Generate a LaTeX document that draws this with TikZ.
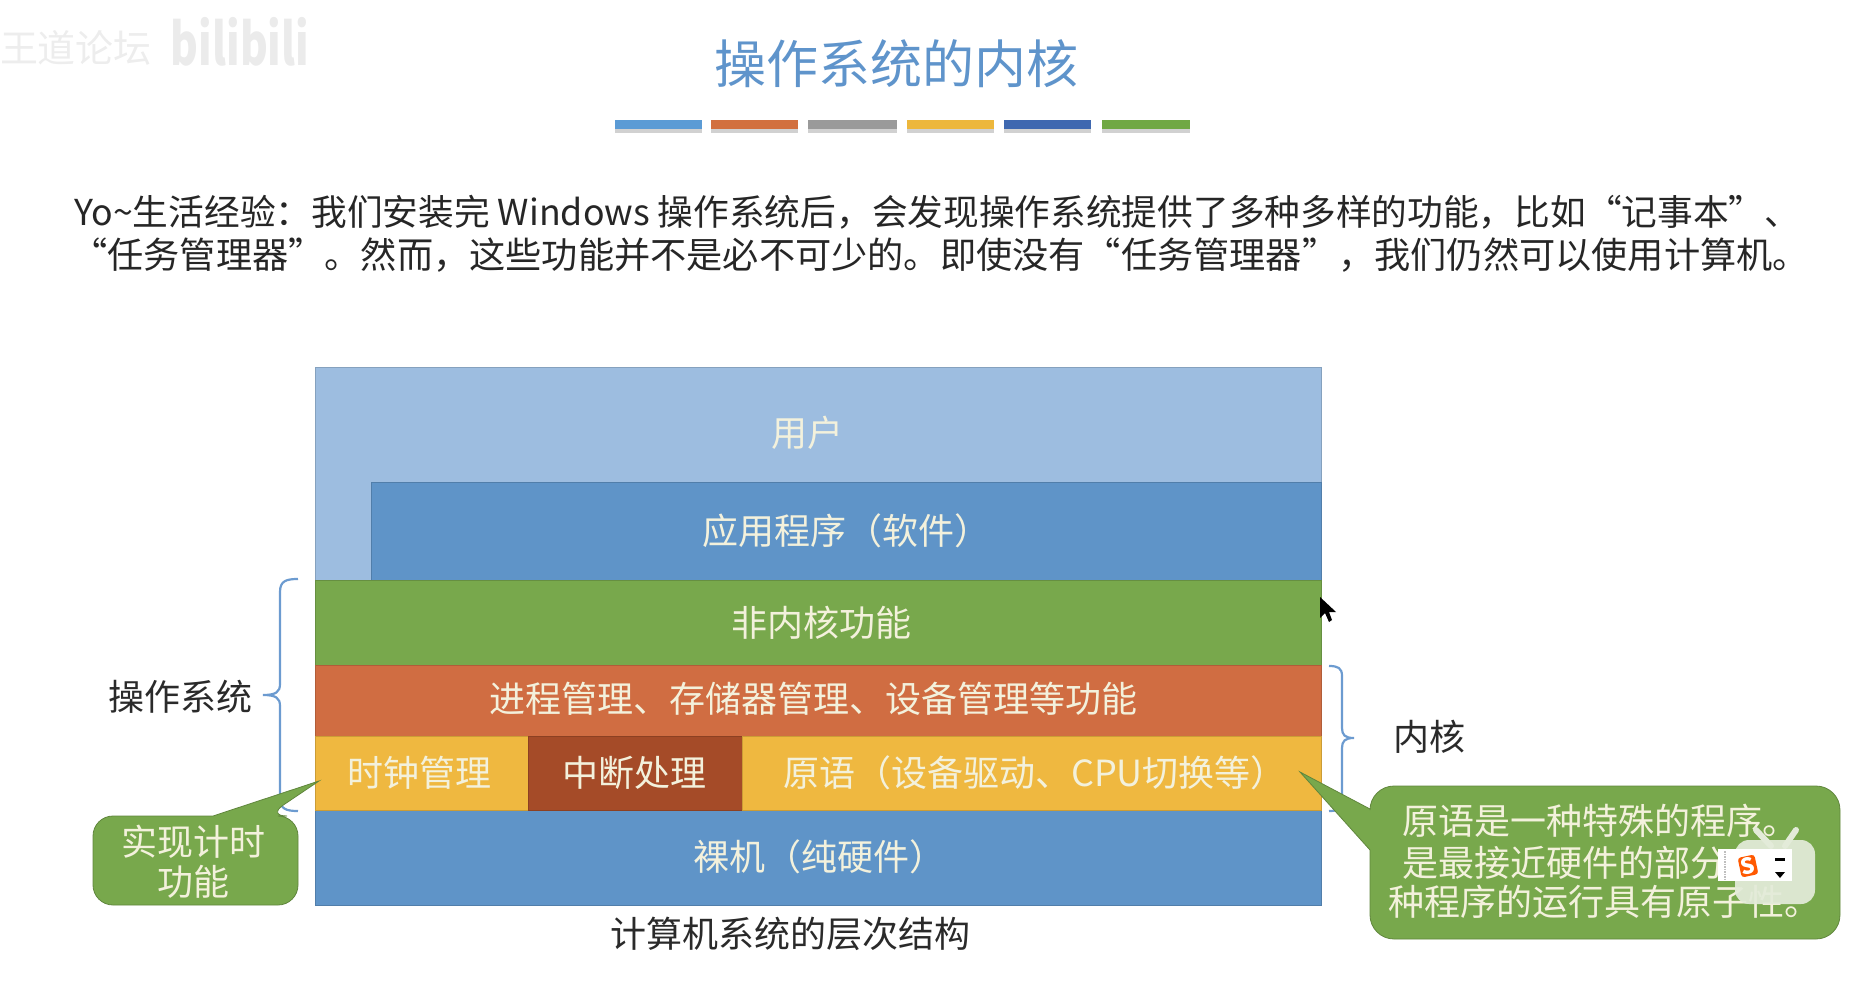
\documentclass[tikz,border=0pt]{standalone}
\usepackage{fontspec}
\setmainfont{Noto Sans CJK SC}
\usetikzlibrary{calc}
\definecolor{cuser}{HTML}{9DBDE0}
\definecolor{capp}{HTML}{5F94C8}
\definecolor{cgreen}{HTML}{78A84C}
\definecolor{corange}{HTML}{D06D42}
\definecolor{cyellow}{HTML}{EFB840}
\definecolor{cdark}{HTML}{A54B28}
\definecolor{ctitle}{HTML}{5F94CB}
\definecolor{cbrace}{HTML}{6C9BD0}
\definecolor{cink}{HTML}{2A2A2A}
\definecolor{csoft}{HTML}{F3F1DC}
\definecolor{cicon}{HTML}{E3EBD9}
\tikzset{
  layer/.style={draw=#1!85!black,line width=0.8pt,fill=#1,inner sep=0pt,minimum width=0pt},
  label/.style={inner sep=0pt,text=csoft,font=\fontsize{36}{42}\selectfont},
  dark/.style={inner sep=0pt,text=cink,font=\fontsize{36}{42}\selectfont},
  bodyline/.style={inner sep=0pt,anchor=west,text=black!85,font=\fontsize{#1}{42}\selectfont},
  bubble/.style={fill=cgreen,draw=cgreen!80!black,line width=0.8pt},
  bracepath/.style={draw=cbrace,line width=2.2pt}
}
\begin{document}
\begin{tikzpicture}[x=1pt,y=-1pt]
\useasboundingbox (0,0) rectangle (1861,992);
% watermark
\node[inner sep=0pt,text=black!7,font=\fontsize{38}{44}\selectfont] (wm1) at (76,48) {王道论坛};
\node[inner sep=0pt,text=black!8,xscale=0.73,font=\bfseries\fontsize{58}{60}\selectfont] (wm2) at (240,42) {bilibili};
% title
\node[inner sep=0pt,text=ctitle,font=\fontsize{52}{60}\selectfont] (title) at (896,64) {操作系统的内核};
% bars
\foreach \a/\b/\c in {615/702/5B9BD5,711/798/D2703F,808/897/9A9A9A,907/994/EDB73C,1004/1091/3F68B0,1102/1190/70A844}{
  \definecolor{tmpc}{HTML}{\c}
  \fill[black!18] (\a,124) rectangle (\b,133);
  \fill[tmpc] (\a,120) rectangle (\b,129);
}
% body
\node[bodyline=35.7] (l1) at (74,212) {Yo\textasciitilde 生活经验：我们安装完 Windows 操作系统后，会发现操作系统提供了多种多样的功能，比如“记事本”、};
\node[bodyline=36.2] (l2) at (71,255) {“任务管理器”。然而，这些功能并不是必不可少的。即使没有“任务管理器”，我们仍然可以使用计算机。};
% braces
\draw[bracepath] (298,579) .. controls (286,579) and (280,581) .. (280,592) -- (280,684) .. controls (280,692) and (276,695) .. (263,695) .. controls (276,695) and (280,698) .. (280,706) -- (280,798) .. controls (280,809) and (286,811) .. (298,811);
\draw[bracepath] (1329,666) .. controls (1338,666) and (1342,668) .. (1342,676) -- (1342,728) .. controls (1342,735) and (1345,738) .. (1354,738) .. controls (1345,738) and (1342,741) .. (1342,748) -- (1342,801) .. controls (1342,809) and (1338,811) .. (1329,811);
% layers
\node[layer=cuser,minimum width=1006pt,minimum height=213pt] (user) at (818,473.5) {};
\node[layer=capp,minimum width=950pt,minimum height=98pt] (app) at (846,531) {};
\node[layer=cgreen,minimum width=1006pt,minimum height=85pt] (nonkernel) at (818,622.5) {};
\node[layer=corange,minimum width=1006pt,minimum height=71pt] (proc) at (818,700.5) {};
\node[layer=capp,minimum width=1006pt,minimum height=95pt] (bare) at (818,857.5) {};
\node[layer=cyellow,minimum width=213pt,minimum height=74pt] (clock) at (421.5,773) {};
\node[layer=cdark,minimum width=214pt,minimum height=74pt] (intr) at (635,773) {};
\node[layer=cyellow,minimum width=579pt,minimum height=74pt] (prim) at (1031.5,773) {};
% layer labels
\node[label] (t1) at (807,433) {用户};
\node[label] (t2) at (846,531) {应用程序（软件）};
\node[label] (t3) at (821,623) {非内核功能};
\node[label] (t4) at (813,699) {进程管理、存储器管理、设备管理等功能};
\node[label] (t5) at (419,773) {时钟管理};
\node[label] (t6) at (634,773) {中断处理};
\node[label] (t7) at (1035,773) {原语（设备驱动、CPU切换等）};
\node[label] (t8) at (819,857) {裸机（纯硬件）};
\node[dark] (t9) at (790,934) {计算机系统的层次结构};
\node[dark] (t10) at (180,697) {操作系统};
\node[dark] (t11) at (1429,737) {内核};
% cursor
\fill[black] (1320,597) -- (1320,618) -- (1325,613) -- (1329,622) -- (1332,620) -- (1329,612) -- (1336,612) -- cycle;
% callouts
\draw[bubble] [rounded corners=20pt] (93,860) -- (93,905) -- (298,905) -- (298,816) -- (267,816) [sharp corners] -- (319,781) -- (213,816) [rounded corners=20pt] -- (93,816) -- cycle;
\node[label] (c1) at (193,842) {实现计时};
\node[label] (c2) at (193,882) {功能};
\draw[bubble] [rounded corners=24pt] (1370,890) -- (1370,939) -- (1840,939) -- (1840,786) -- (1370,786) [sharp corners] -- (1370,809) -- (1300,772) -- (1370,850) -- cycle;
\node[label] (r1) at (1600,821) {原语是一种特殊的程序。};
\node[label,anchor=west] (r2) at (1402,863) {是最接近硬件的部分};
\node[label] (r3) at (1604,902) {种程序的运行具有原子性。};
% overlay icons
\draw[line width=6pt,color=cicon,line cap=round] (1756,830) -- (1771,846) (1796,830) -- (1785,846);
\fill[cicon,opacity=0.93,rounded corners=14pt] (1735,840) rectangle (1815,904);
\fill[white] (1718,849) rectangle (1792,881);
\draw[black!25,densely dotted,line width=1.5pt] (1725,851) -- (1725,880);
\node[inner sep=1.5pt,rotate=12,fill=orange!70!red,rounded corners=3pt,text=white,font=\bfseries\fontsize{22}{24}\selectfont] (sg) at (1748,866) {S};
\fill[black] (1775,858) rectangle (1785,861);
\fill[black] (1775,872) -- (1785,872) -- (1780,878) -- cycle;
\end{tikzpicture}
\end{document}
